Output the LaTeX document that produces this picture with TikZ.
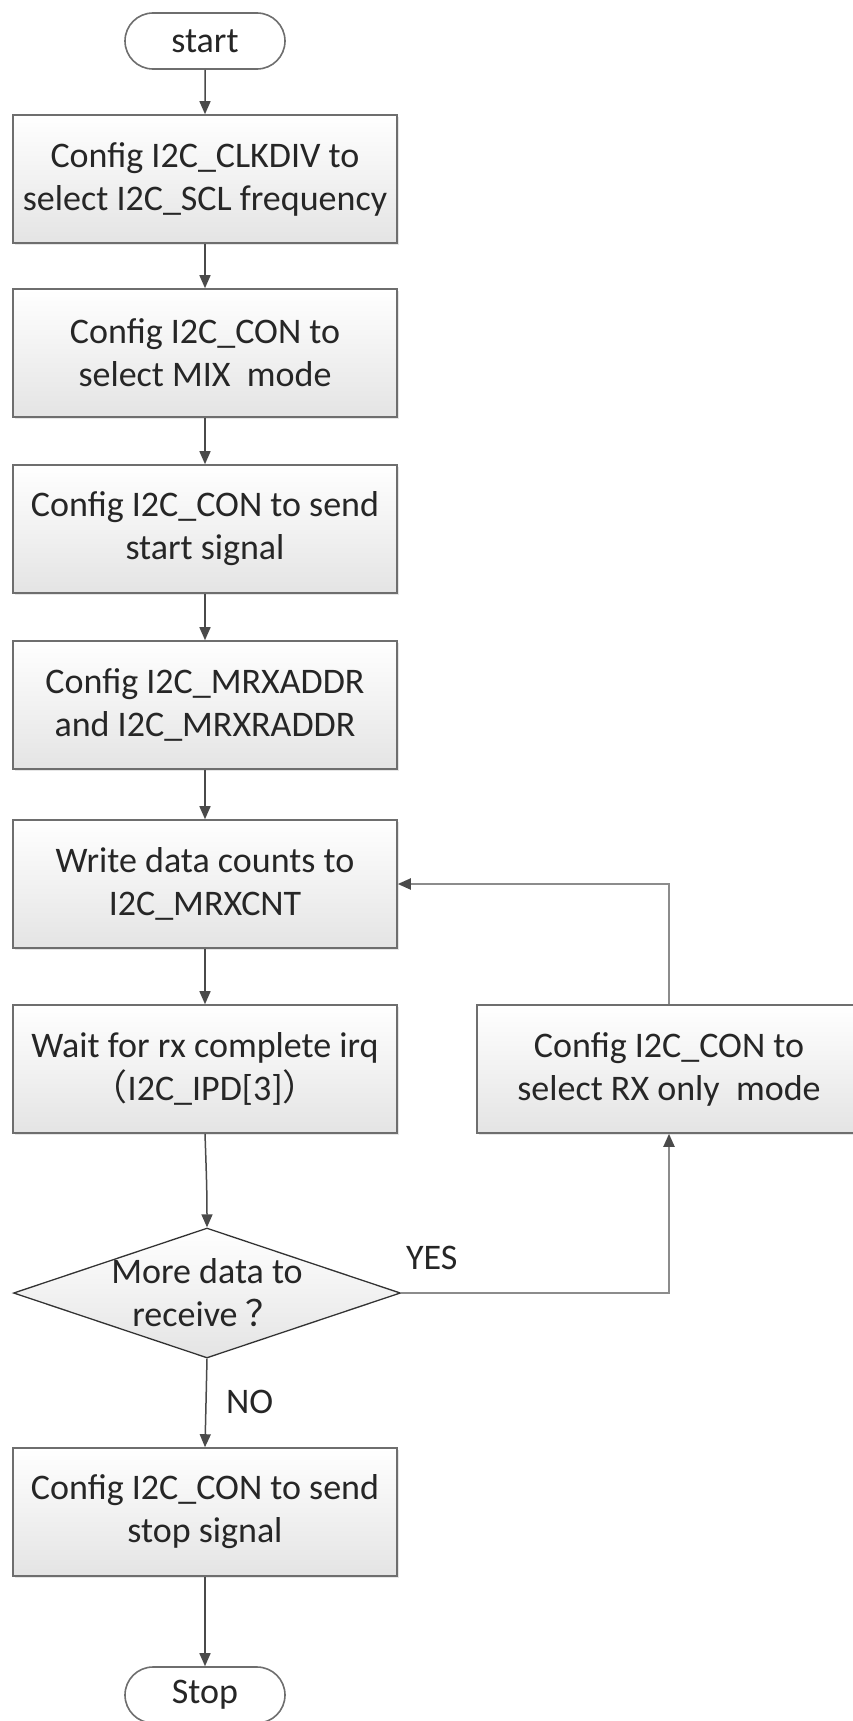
\documentclass[tikz,border=0pt]{standalone}
\usepackage{fontspec}
\setmainfont{Carlito}
\newfontfamily\cjk{Noto Sans CJK SC}
\usetikzlibrary{arrows.meta,shapes.geometric,shapes.misc,shadows}
\definecolor{boxline}{HTML}{6E6E6E}
\definecolor{arrowline}{HTML}{4A4A4A}
\definecolor{loopline}{HTML}{8C8C8C}
\definecolor{boxbottom}{HTML}{E4E4E4}

\begin{document}
\begin{tikzpicture}[x=1pt,y=-1pt,
  font=\fontsize{36}{43}\selectfont,
  every node/.style={align=center,text=black!85},
  stepbox/.style={draw=boxline,line width=1.6pt,top color=white,bottom color=boxbottom,
    minimum width=384pt,minimum height=128pt,inner sep=0pt,
    drop shadow={opacity=0.2,shadow xshift=2pt,shadow yshift=-2pt}},
  term/.style={draw=boxline,line width=1.6pt,fill=white,rounded rectangle,
    minimum width=160pt,minimum height=56pt,inner sep=0pt},
  decide/.style={draw=black!80,line width=1.3pt,diamond,aspect=3,top color=white,
    bottom color=boxbottom,minimum width=387pt,minimum height=130pt,inner sep=-9pt},
  lbl/.style={anchor=base west,inner sep=0pt},
  flow/.style={draw=arrowline,line width=1.5pt,-{Triangle[length=13pt,width=11pt]}},
  back/.style={draw=loopline,line width=2pt,-{Triangle[length=13pt,width=11pt,color=arrowline]}}]

%page frame
    \useasboundingbox (0,0) rectangle (853,1721);
    \clip (0,0) rectangle (853,1721);

%main column
    \node[term] (start) at (205,41) {start};
    \node[stepbox] (b1) at (205,179) {Config I2C\_CLKDIV to\\select I2C\_SCL frequency};
    \node[stepbox] (b2) at (205,353) {Config I2C\_CON to\\select MIX\ \ mode};
    \node[stepbox] (b3) at (205,529) {Config I2C\_CON to send\\start signal};
    \node[stepbox] (b4) at (205,705) {Config I2C\_MRXADDR\\and I2C\_MRXRADDR};
    \node[stepbox] (b5) at (205,884) {Write data counts to\\I2C\_MRXCNT};
    \node[stepbox] (b6) at (205,1069) {Wait for rx complete irq\\{\cjk （}I2C\_IPD[3]{\cjk ）}};
    \node[decide] (dec) at (207,1293) {More data to\\receive {\cjk ？}};
    \node[stepbox] (b7) at (205,1512) {Config I2C\_CON to send\\stop signal};
    \node[term] (stop) at (205,1695) {Stop};

%side step
    \node[stepbox] (rb) at (669,1069) {Config I2C\_CON to\\select RX only\ \ mode};

%labels
    \node[lbl] (yes) at (406,1269) {YES};
    \node[lbl] (no) at (226,1413) {NO};

%connectors
  \foreach \a/\b in {start/b1, b1/b2, b2/b3, b3/b4, b4/b5, b5/b6}
    \draw[flow] (\a) -- (\b);
    \draw[flow] (b6.south) to[out=-88,in=90] (dec.north);
    \draw[flow] (dec.south) -- (b7.north);
    \draw[flow] (b7) -- (stop);
    \draw[back] (dec.east) -| (rb.south);
    \draw[back] (rb.north) |- (b5.east);

\end{tikzpicture}
\end{document}
